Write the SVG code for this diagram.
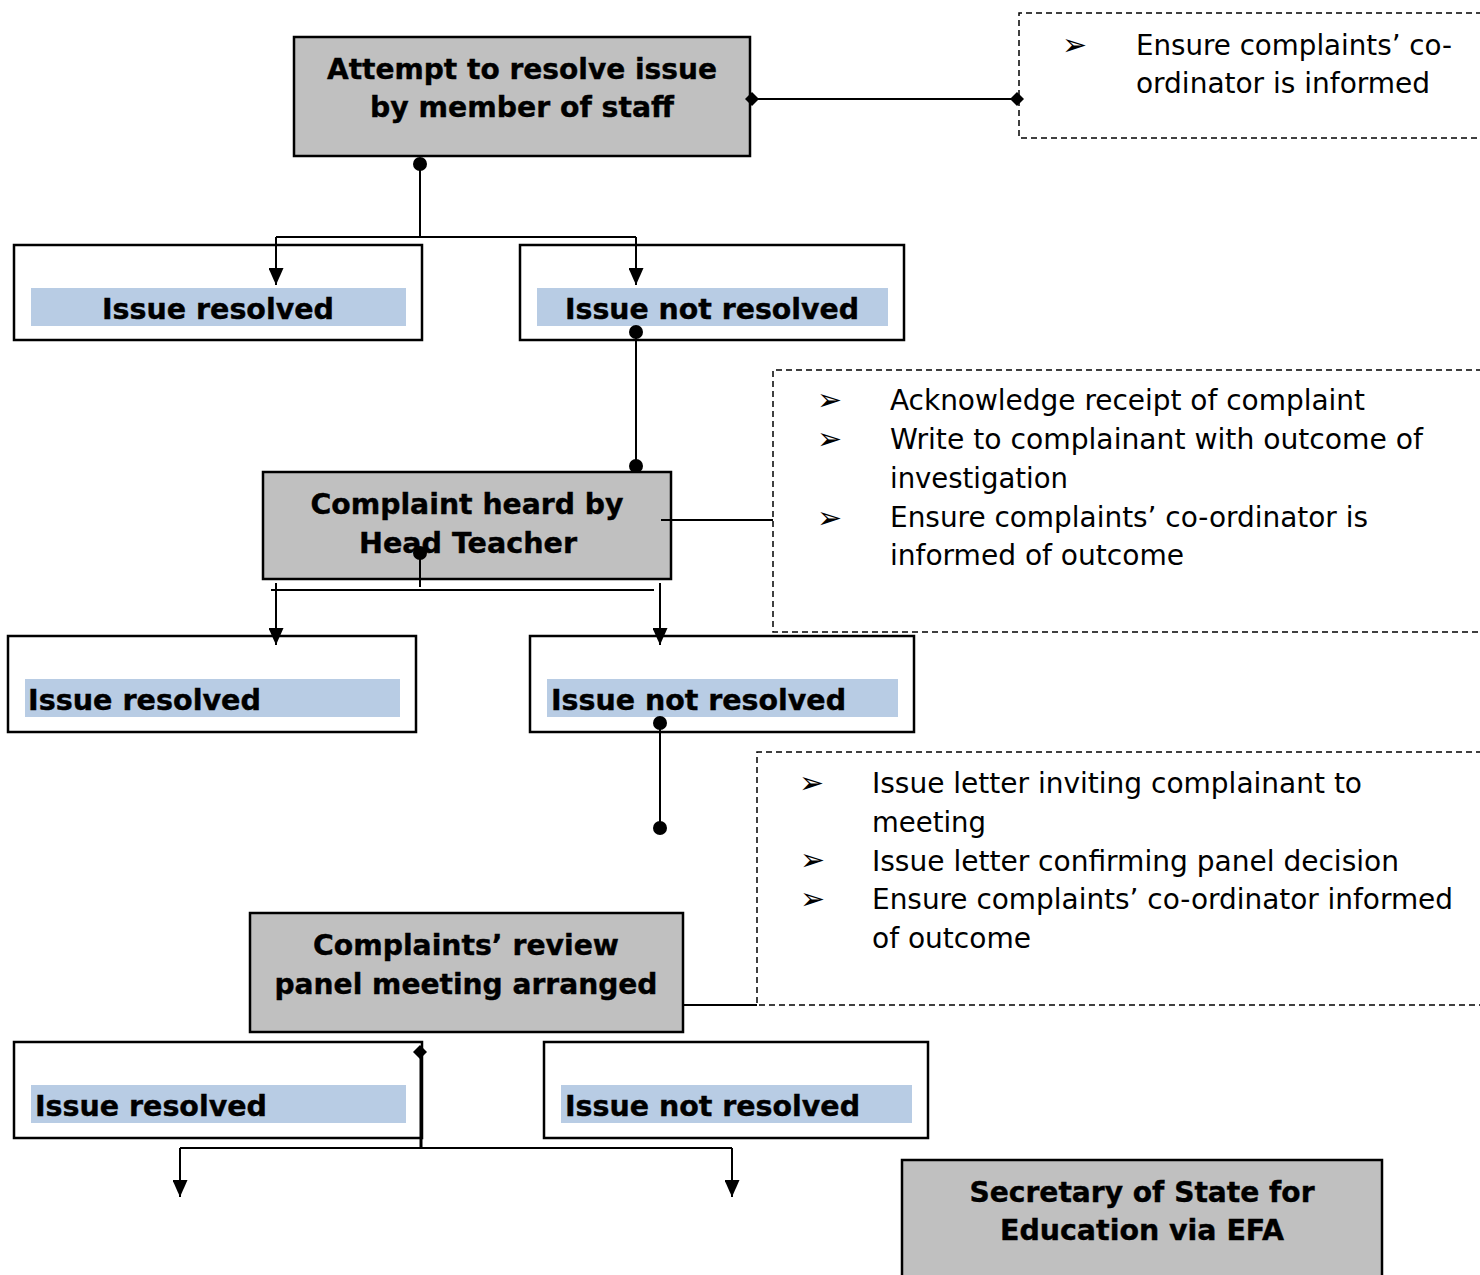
<svg xmlns="http://www.w3.org/2000/svg" width="1480" height="1275" viewBox="0 0 1480 1275">
<defs>
<marker id="arr" viewBox="0 0 10 10" refX="10" refY="5" markerUnits="userSpaceOnUse" markerWidth="17" markerHeight="15" preserveAspectRatio="none" orient="auto">
<path d="M0,0 L10,5 L0,10 z" fill="#000"/>
</marker>
</defs>
<style>
.gray{fill:#c0c0c0;stroke:#000;stroke-width:2.5}
.box{fill:#fff;stroke:#000;stroke-width:2.5}
.hl{fill:#b8cce4}
.dash{fill:none;stroke:#000;stroke-width:1.5;stroke-dasharray:6 4}
.b{font-family:"DejaVu Sans","Liberation Sans",sans-serif;font-weight:bold;font-size:28px;fill:#000;stroke:#000;stroke-width:0.4}
.r{font-family:"DejaVu Sans Condensed","DejaVu Sans","Liberation Sans",sans-serif;font-size:28px;fill:#000}
.bul{font-family:"DejaVu Sans",sans-serif;font-size:30px;fill:#000}
.ln{fill:none;stroke:#000;stroke-width:2}
</style>
<rect width="1480" height="1275" fill="#fff"/>

<g id="node-attempt">
<rect class="gray" x="294" y="37" width="456" height="119"/>
<text class="b" x="522" y="79" text-anchor="middle" textLength="390" lengthAdjust="spacingAndGlyphs">Attempt to resolve issue</text>
<text class="b" x="522" y="117" text-anchor="middle" textLength="304" lengthAdjust="spacingAndGlyphs">by member of staff</text>
</g>

<g id="note-1">
<path class="dash" d="M1482,13 H1019 V138 H1482"/>
<text class="bul" x="1062" y="55">➢</text>
<text class="r" x="1136" y="55" textLength="316" lengthAdjust="spacingAndGlyphs">Ensure complaints’ co-</text>
<text class="r" x="1136" y="93" textLength="294" lengthAdjust="spacingAndGlyphs">ordinator is informed</text>
</g>

<g id="node-resolved-1">
<rect class="box" x="14" y="245" width="408" height="95"/>
<rect class="hl" x="31" y="288" width="375" height="38"/>
<text class="b" x="102" y="319" textLength="232" lengthAdjust="spacingAndGlyphs">Issue resolved</text>
</g>

<g id="node-notresolved-1">
<rect class="box" x="520" y="245" width="384" height="95"/>
<rect class="hl" x="537" y="288" width="351" height="38"/>
<text class="b" x="565" y="319" textLength="294" lengthAdjust="spacingAndGlyphs">Issue not resolved</text>
</g>

<g id="node-headteacher">
<rect class="gray" x="263" y="472" width="408" height="107"/>
<text class="b" x="467" y="514" text-anchor="middle" textLength="313" lengthAdjust="spacingAndGlyphs">Complaint heard by</text>
<text class="b" x="468" y="553" text-anchor="middle" textLength="218" lengthAdjust="spacingAndGlyphs">Head Teacher</text>
</g>

<g id="note-2">
<path class="dash" d="M1482,370 H773 V632 H1482"/>
<text class="bul" x="817" y="410">➢</text>
<text class="bul" x="817" y="449">➢</text>
<text class="bul" x="817" y="528">➢</text>
<text class="r" x="890" y="410" textLength="475" lengthAdjust="spacingAndGlyphs">Acknowledge receipt of complaint</text>
<text class="r" x="890" y="449" textLength="533" lengthAdjust="spacingAndGlyphs">Write to complainant with outcome of</text>
<text class="r" x="890" y="488" textLength="178" lengthAdjust="spacingAndGlyphs">investigation</text>
<text class="r" x="890" y="527" textLength="478" lengthAdjust="spacingAndGlyphs">Ensure complaints’ co-ordinator is</text>
<text class="r" x="890" y="565" textLength="294" lengthAdjust="spacingAndGlyphs">informed of outcome</text>
</g>

<g id="node-resolved-2">
<rect class="box" x="8" y="636" width="408" height="96"/>
<rect class="hl" x="25" y="679" width="375" height="38"/>
<text class="b" x="28" y="710" textLength="233" lengthAdjust="spacingAndGlyphs">Issue resolved</text>
</g>

<g id="node-notresolved-2">
<rect class="box" x="530" y="636" width="384" height="96"/>
<rect class="hl" x="547" y="679" width="351" height="38"/>
<text class="b" x="551" y="710" textLength="295" lengthAdjust="spacingAndGlyphs">Issue not resolved</text>
</g>

<g id="note-3">
<path class="dash" d="M1482,752 H757 V1005 H1482"/>
<text class="bul" x="799" y="793">➢</text>
<text class="bul" x="800" y="870" font-size="24">➢</text>
<text class="bul" x="800" y="909" font-size="24">➢</text>
<text class="r" x="872" y="793" textLength="490" lengthAdjust="spacingAndGlyphs">Issue letter inviting complainant to</text>
<text class="r" x="872" y="832" textLength="114" lengthAdjust="spacingAndGlyphs">meeting</text>
<text class="r" x="872" y="871" textLength="527" lengthAdjust="spacingAndGlyphs">Issue letter confirming panel decision</text>
<text class="r" x="872" y="909" textLength="581" lengthAdjust="spacingAndGlyphs">Ensure complaints’ co-ordinator informed</text>
<text class="r" x="872" y="948" textLength="159" lengthAdjust="spacingAndGlyphs">of outcome</text>
</g>

<g id="node-panel">
<rect class="gray" x="250" y="913" width="433" height="119"/>
<text class="b" x="466" y="955" text-anchor="middle" textLength="306" lengthAdjust="spacingAndGlyphs">Complaints’ review</text>
<text class="b" x="466" y="994" text-anchor="middle" textLength="383" lengthAdjust="spacingAndGlyphs">panel meeting arranged</text>
</g>

<g id="node-resolved-3">
<rect class="box" x="14" y="1042" width="408" height="96"/>
<rect class="hl" x="31" y="1085" width="375" height="38"/>
<text class="b" x="35" y="1116" textLength="232" lengthAdjust="spacingAndGlyphs">Issue resolved</text>
</g>

<g id="node-notresolved-3">
<rect class="box" x="544" y="1042" width="384" height="96"/>
<rect class="hl" x="561" y="1085" width="351" height="38"/>
<text class="b" x="565" y="1116" textLength="295" lengthAdjust="spacingAndGlyphs">Issue not resolved</text>
</g>

<g id="node-secretary">
<rect class="gray" x="902" y="1160" width="480" height="125"/>
<text class="b" x="1142" y="1202" text-anchor="middle" textLength="345" lengthAdjust="spacingAndGlyphs">Secretary of State for</text>
<text class="b" x="1142" y="1240" text-anchor="middle" textLength="284" lengthAdjust="spacingAndGlyphs">Education via EFA</text>
</g>

<g id="connectors">
<path class="ln" d="M420,164 V237"/>
<path class="ln" d="M276,237 H636"/>
<path class="ln" d="M276,237 V285" marker-end="url(#arr)"/>
<path class="ln" d="M636,237 V285" marker-end="url(#arr)"/>
<path class="ln" d="M752,99 H1017"/>
<polygon points="752,92 759,99 752,106 745,99" fill="#000"/>
<polygon points="1017,92 1024,99 1017,106 1010,99" fill="#000"/>
<path class="ln" d="M636,332 V466"/>
<circle cx="420" cy="164" r="7" fill="#000"/>
<circle cx="636" cy="332" r="7" fill="#000"/>
<circle cx="636" cy="466" r="7" fill="#000"/>
<path class="ln" d="M661,520 H773"/>
<path class="ln" d="M420,553 V587"/>
<circle cx="420" cy="553" r="7" fill="#000"/>
<path class="ln" d="M271,590 H654"/>
<path class="ln" d="M276,583 V645" marker-end="url(#arr)"/>
<path class="ln" d="M660,583 V645" marker-end="url(#arr)"/>
<path class="ln" d="M660,723 V828"/>
<circle cx="660" cy="723" r="7" fill="#000"/>
<circle cx="660" cy="828" r="7" fill="#000"/>
<path class="ln" d="M683,1005 H757"/>
<path fill="none" stroke="#000" stroke-width="3" d="M421,1052 V1148"/>
<polygon points="420,1045 427,1052 420,1059 413,1052" fill="#000"/>
<path class="ln" d="M180,1148 H732"/>
<path class="ln" d="M180,1148 V1197" marker-end="url(#arr)"/>
<path class="ln" d="M732,1148 V1197" marker-end="url(#arr)"/>
</g>
</svg>
